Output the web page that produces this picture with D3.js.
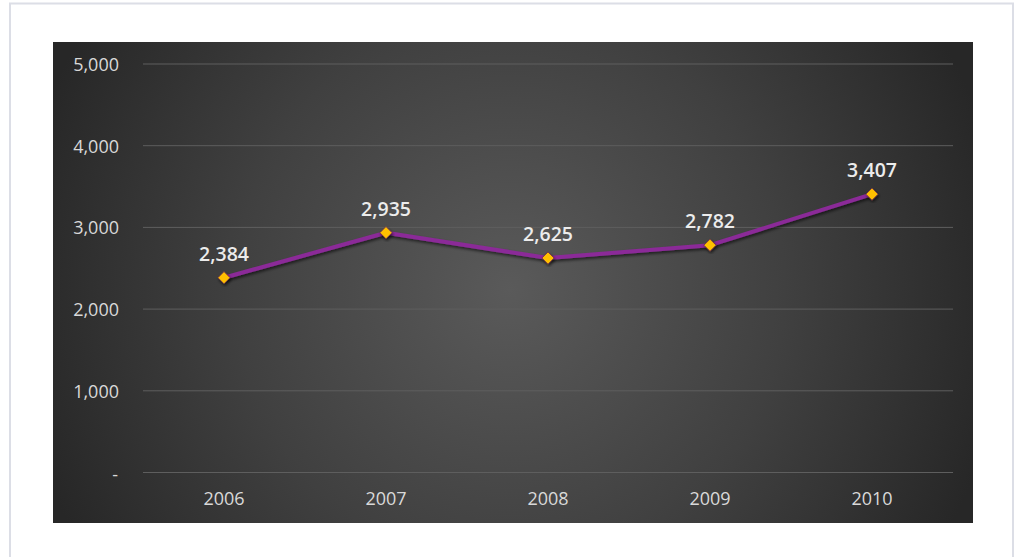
<!DOCTYPE html>
<html>
<head>
<meta charset="utf-8">
<script src="https://cdn.jsdelivr.net/npm/d3@7"></script>
<style>
  html, body { margin: 0; padding: 0; background: #ffffff; }
  svg { display: block; }
</style>
</head>
<body>
<svg id="chart" width="1016" height="557"></svg>
<script>
// Yearly totals
const years = ["2006", "2007", "2008", "2009", "2010"];
const values = [2384, 2935, 2625, 2782, 3407];
const yTicks = [0, 1000, 2000, 3000, 4000, 5000];

const svg = d3.select("#chart");

// Outer frame
svg.append("rect")
  .attr("x", 10).attr("y", 3.5).attr("width", 1003).attr("height", 600)
  .attr("fill", "#ffffff").attr("stroke", "#dcdee6").attr("stroke-width", 2);

const defs = svg.append("defs");
const grad = defs.append("radialGradient")
  .attr("id", "bg").attr("gradientUnits", "userSpaceOnUse")
  .attr("cx", 510).attr("cy", 290).attr("r", 500);
grad.append("stop").attr("offset", "0%").attr("stop-color", "#5a5a5a");
grad.append("stop").attr("offset", "55%").attr("stop-color", "#404040");
grad.append("stop").attr("offset", "100%").attr("stop-color", "#272727");

const shadow = defs.append("filter").attr("id", "shadow")
  .attr("x", "-20%").attr("y", "-20%").attr("width", "140%").attr("height", "140%");
shadow.append("feDropShadow")
  .attr("dx", 1).attr("dy", 2).attr("stdDeviation", 1.5)
  .attr("flood-color", "#000").attr("flood-opacity", 0.6);

// Dark plot panel
const panel = { x: 53, y: 42, w: 920, h: 481 };
svg.append("rect")
  .attr("x", panel.x).attr("y", panel.y)
  .attr("width", panel.w).attr("height", panel.h)
  .attr("fill", "url(#bg)");

const plot = { left: 143, right: 953, top: 64, bottom: 472.5 };

const x = d3.scaleBand().domain(years).range([plot.left, plot.right]);
const y = d3.scaleLinear().domain([0, 5000]).range([plot.bottom, plot.top]);

const fontFamily = "'Open Sans', 'Noto Sans', sans-serif";

// Horizontal gridlines
svg.append("g")
  .selectAll("line")
  .data(yTicks)
  .join("line")
  .attr("x1", plot.left).attr("x2", plot.right)
  .attr("y1", d => y(d)).attr("y2", d => y(d))
  .attr("stroke", "#5e5e5e").attr("stroke-width", 1);

// Y axis labels
const yAxis = d3.axisLeft(y)
  .tickValues(yTicks)
  .tickSize(0)
  .tickPadding(0)
  .tickFormat(d => d === 0 ? "-" : d3.format(",")(d));
const gy = svg.append("g").attr("transform", "translate(119,0)").call(yAxis);
gy.attr("font-size", null).attr("font-family", null);
gy.select(".domain").remove();
gy.selectAll("text")
  .attr("fill", "#d9d9d9")
  .style("font-family", fontFamily)
  .style("font-size", "18px")
  .attr("dy", "0.35em");
gy.selectAll(".tick").filter(d => d === 0).select("text").attr("x", -1).attr("dy", "0.42em");

// X axis labels
const xAxis = d3.axisBottom(x).tickSize(0).tickPadding(0);
const gx = svg.append("g").attr("transform", "translate(0,499)").call(xAxis);
gx.attr("font-size", null).attr("font-family", null);
gx.select(".domain").remove();
gx.selectAll("text")
  .attr("fill", "#d9d9d9")
  .style("font-family", fontFamily)
  .style("font-size", "18px")
  .attr("dy", "0.35em");

const pts = years.map((yr, i) => ({ yr, v: values[i] }));
const cx = d => x(d.yr) + x.bandwidth() / 2;

// Line
const line = d3.line().x(cx).y(d => y(d.v));
svg.append("path")
  .datum(pts)
  .attr("d", line)
  .attr("fill", "none")
  .attr("stroke", "#8b2a98")
  .attr("stroke-width", 4)
  .attr("stroke-linejoin", "round")
  .attr("filter", "url(#shadow)");

// Diamond markers
const diamond = d3.symbol().type(d3.symbolDiamond2).size(95);
svg.append("g")
  .selectAll("path")
  .data(pts)
  .join("path")
  .attr("transform", d => `translate(${cx(d)},${y(d.v)})`)
  .attr("d", diamond)
  .attr("fill", "#ffc000")
  .attr("stroke", "#6a2a4a")
  .attr("stroke-width", 0.8)
  .attr("filter", "url(#shadow)");

// Value labels
svg.append("g")
  .selectAll("text")
  .data(pts)
  .join("text")
  .attr("x", cx)
  .attr("y", d => y(d.v) - 24)
  .attr("text-anchor", "middle")
  .attr("dy", "0.35em")
  .attr("fill", "#ececec")
  .style("font-family", fontFamily)
  .style("font-weight", 600)
  .style("font-size", "19.5px")
  .text(d => d3.format(",")(d.v));
</script>
</body>
</html>
